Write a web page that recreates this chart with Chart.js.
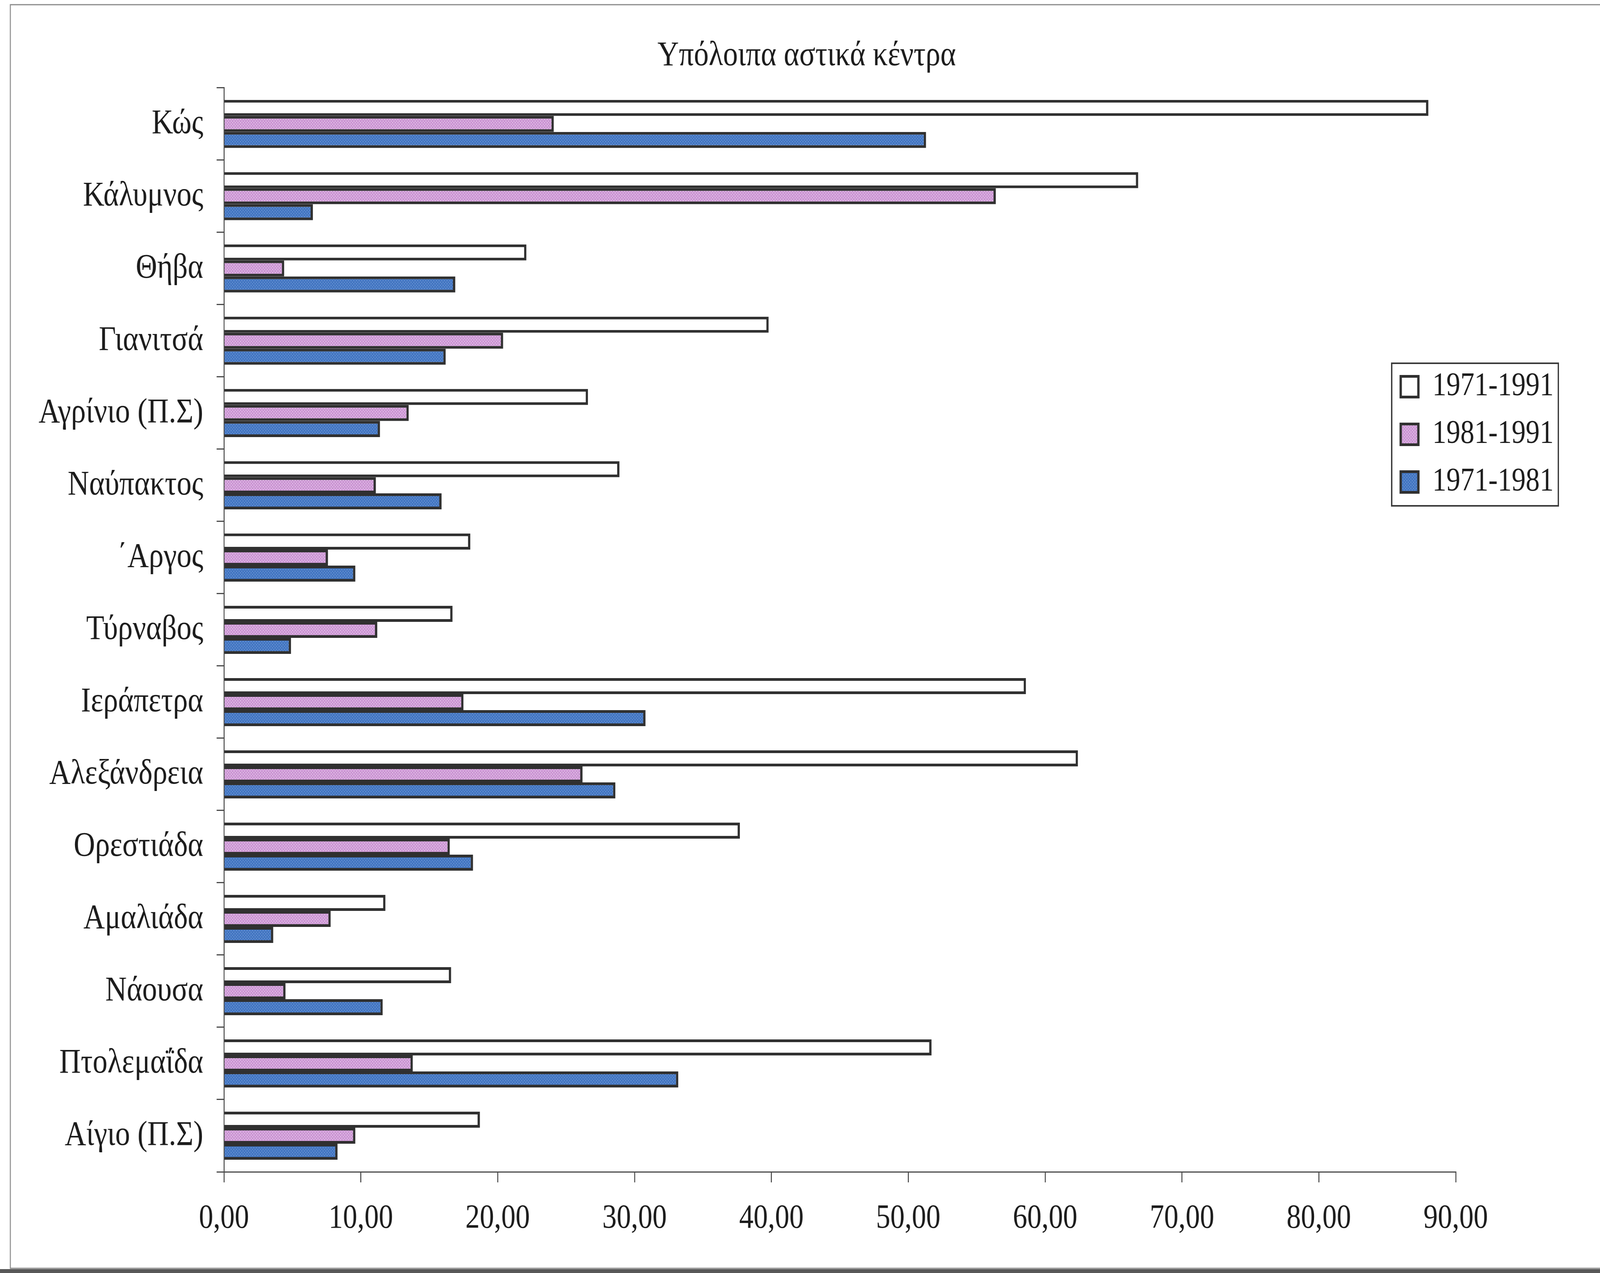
<!DOCTYPE html>
<html>
<head>
<meta charset="utf-8">
<script src="https://cdn.jsdelivr.net/npm/chart.js@4.4.1/dist/chart.umd.min.js"></script>
<style>
html, body { margin: 0; padding: 0; background: #ffffff; overflow: hidden; width: 100vw; height: 100vh; }
canvas { display: block; }
</style>
</head>
<body>
<canvas id="c" width="4801" height="3259" style="width:100vw;height:100vh;"></canvas>
<script>
// ---- Data ----
const categories = ['Κώς', 'Κάλυμνος', 'Θήβα', 'Γιανιτσά', 'Αγρίνιο (Π.Σ)', 'Ναύπακτος', '΄Αργος', 'Τύρναβος', 'Ιεράπετρα', 'Αλεξάνδρεια', 'Ορεστιάδα', 'Αμαλιάδα', 'Νάουσα', 'Πτολεμαΐδα', 'Αίγιο (Π.Σ)'];
const seriesNames = ['1971-1991', '1981-1991', '1971-1981'];
const values1971_1991 = [88.0, 66.8, 22.1, 39.8, 26.6, 28.9, 18.0, 16.7, 58.6, 62.4, 37.7, 11.8, 16.6, 51.7, 18.7];
const values1981_1991 = [24.1, 56.4, 4.4, 20.4, 13.5, 11.1, 7.6, 11.2, 17.5, 26.2, 16.5, 7.8, 4.5, 13.8, 9.6];
const values1971_1981 = [51.3, 6.5, 16.9, 16.2, 11.4, 15.9, 9.6, 4.9, 30.8, 28.6, 18.2, 3.6, 11.6, 33.2, 8.3];
const xTickLabels = ['0,00', '10,00', '20,00', '30,00', '40,00', '50,00', '60,00', '70,00', '80,00', '90,00'];
const chartTitle = 'Υπόλοιπα αστικά κέντρα';

// ---- Styles ----
const FONT = "'Liberation Serif', 'Times New Roman', serif";
const TEXT = '#1c1c1c';
const AXIS = '#4a4a4a';
const BORDER = '#303030';

function makePattern(base, light, cells) {
  const c = document.createElement('canvas');
  c.width = 8; c.height = 8;
  const g = c.getContext('2d');
  g.fillStyle = base; g.fillRect(0, 0, 8, 8);
  g.fillStyle = light;
  cells.forEach(r => g.fillRect(r[0], r[1], r[2], r[3]));
  return document.getElementById('c').getContext('2d').createPattern(c, 'repeat');
}
const pinkPattern = makePattern('#cc96d4', '#f4e6f6', [[1, 1, 2, 2], [5, 5, 2, 2]]);
const bluePattern = makePattern('#4376c2', '#9dbbe8', [[0, 2, 3, 1], [4, 6, 3, 1]]);

// legend frame placement
const LEGEND_LEFT = 4165, LEGEND_TOP = 910;
const LEGEND_FRAME = { x: 4176, y: 930, w: 500, h: 365 };

const framePlugin = {
  id: 'pageFrame',
  beforeDraw(chart) {
    const g = chart.ctx;
    g.save();
    g.fillStyle = '#ffffff';
    g.fillRect(0, 0, chart.width, chart.height);
    g.strokeStyle = '#8a8a8a';
    g.lineWidth = 3;
    g.beginPath();
    g.moveTo(chart.width, 12); g.lineTo(31, 12); g.lineTo(31, 3247); g.lineTo(chart.width, 3247);
    g.stroke();
    g.fillStyle = '#585858';
    g.fillRect(0, 3249, chart.width, 10);
    g.restore();
  },
  afterDraw(chart) {
    const g = chart.ctx;
    g.save();
    g.strokeStyle = '#3a3a3a';
    g.lineWidth = 4;
    g.strokeRect(LEGEND_FRAME.x, LEGEND_FRAME.y, LEGEND_FRAME.w, LEGEND_FRAME.h);
    g.restore();
  }
};

const legendPlacer = {
  id: 'legendPlacer',
  afterLayout(chart) {
    const lg = chart.legend;
    if (!lg) return;
    lg.left = LEGEND_LEFT;
    lg.top = LEGEND_TOP;
    lg.right = LEGEND_LEFT + 600;
    lg.bottom = LEGEND_TOP + 600;
  }
};

new Chart(document.getElementById('c'), {
  type: 'bar',
  data: {
    labels: categories,
    datasets: [
      { label: seriesNames[0], data: values1971_1991, backgroundColor: '#ffffff', borderColor: BORDER, borderWidth: 7 },
      { label: seriesNames[1], data: values1981_1991, backgroundColor: pinkPattern, borderColor: BORDER, borderWidth: 7 },
      { label: seriesNames[2], data: values1971_1981, backgroundColor: bluePattern, borderColor: BORDER, borderWidth: 7 }
    ]
  },
  options: {
    indexAxis: 'y',
    responsive: false,
    animation: false,
    devicePixelRatio: 1,
    datasets: { bar: { categoryPercentage: 0.665, barPercentage: 1.0 } },
    layout: { padding: { left: 40, right: 0, top: 12, bottom: 40 } },
    plugins: {
      title: {
        display: true, text: chartTitle, color: TEXT,
        font: { family: FONT, size: 89, weight: 'normal' },
        padding: { top: 78, bottom: 28 }
      },
      legend: {
        display: true, position: 'right', align: 'start', maxWidth: 433,
        labels: { font: { family: FONT, size: 84 }, color: TEXT, boxWidth: 53, boxHeight: 53, padding: 38 }
      },
      tooltip: { enabled: false }
    },
    scales: {
      x: {
        type: 'linear', position: 'bottom', min: 0, max: 90,
        ticks: { stepSize: 10, color: TEXT, font: { family: FONT, size: 86 }, padding: 42, maxRotation: 0,
                 callback: (v, i) => xTickLabels[i] },
        grid: { drawOnChartArea: false, drawTicks: true, tickLength: 27, color: AXIS, lineWidth: 3 },
        border: { display: true, color: AXIS, width: 3 },
        afterFit(s) { s.height = 219; }
      },
      y: {
        type: 'category', position: 'left',
        ticks: { color: TEXT, font: { family: FONT, size: 89 }, padding: 40, autoSkip: false },
        grid: { offset: true, drawOnChartArea: false, drawTicks: true, tickLength: 22, color: AXIS, lineWidth: 3 },
        border: { display: true, color: AXIS, width: 3 },
        afterFit(s) { s.width = 632; }
      }
    }
  },
  plugins: [framePlugin, legendPlacer]
});
</script>
</body>
</html>
